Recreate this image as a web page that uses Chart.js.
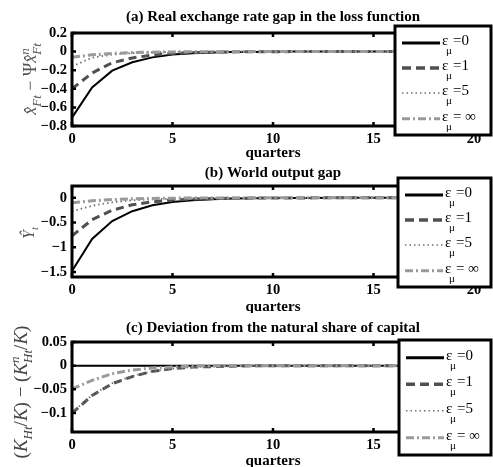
<!DOCTYPE html>
<html>
<head>
<meta charset="utf-8">
<script src="https://cdn.jsdelivr.net/npm/chart.js@4/dist/chart.umd.min.js"></script>
<style>
  html, body { margin: 0; padding: 0; background: #fff; }
  body { width: 493px; height: 467px; position: relative; overflow: hidden; }
  .pane { position: absolute; left: 0; width: 493px; }
</style>
</head>
<body>
<div class="pane" style="top:0px;height:160px"><canvas id="ca"></canvas></div>
<div class="pane" style="top:160px;height:153px"><canvas id="cb"></canvas></div>
<div class="pane" style="top:313px;height:154px"><canvas id="cc"></canvas></div>
<script>
// ---------------- data ----------------
const quarters = [0,1,2,3,4,5,6,7,8,9,10,11,12,13,14,15,16,17,18,19,20];
const seriesNames = ['=0', '=1', '=5', '= ∞'];
const xTickValues = [0, 5, 10, 15, 20];

// (a) Real exchange rate gap in the loss function
const gapA0   = [-0.71,-0.385,-0.205,-0.115,-0.062,-0.032,-0.017,-0.009,-0.005,-0.003,-0.001,0,0,0,0,0,0,0,0,0,0];
const gapA1   = [-0.40,-0.23,-0.12,-0.068,-0.037,-0.02,-0.011,-0.006,-0.003,-0.002,-0.001,0,0,0,0,0,0,0,0,0,0];
const gapA5   = [-0.16,-0.065,-0.032,-0.016,-0.008,-0.004,-0.002,-0.001,0,0,0,0,0,0,0,0,0,0,0,0,0];
const gapAInf = [-0.06,-0.035,-0.02,-0.011,-0.006,-0.003,-0.002,-0.001,0,0,0,0,0,0,0,0,0,0,0,0,0];
const yTicksA = [0.2, 0, -0.2, -0.4, -0.6, -0.8];

// (b) World output gap
const gapB0   = [-1.48,-0.83,-0.47,-0.27,-0.15,-0.085,-0.048,-0.027,-0.015,-0.008,-0.004,-0.002,-0.001,0,0,0,0,0,0,0,0];
const gapB1   = [-0.77,-0.44,-0.25,-0.14,-0.08,-0.045,-0.025,-0.014,-0.008,-0.004,-0.002,-0.001,0,0,0,0,0,0,0,0,0];
const gapB5   = [-0.27,-0.16,-0.09,-0.05,-0.028,-0.016,-0.009,-0.005,-0.003,-0.001,0,0,0,0,0,0,0,0,0,0,0];
const gapBInf = [-0.10,-0.06,-0.035,-0.02,-0.011,-0.006,-0.003,-0.002,-0.001,0,0,0,0,0,0,0,0,0,0,0,0];
const yTicksB = [0, -0.5, -1, -1.5];

// (c) Deviation from the natural share of capital
const gapC0   = [0,0,0,0,0,0,0,0,0,0,0,0,0,0,0,0,0,0,0,0,0];
const gapC1   = [-0.10,-0.063,-0.038,-0.023,-0.012,-0.006,-0.003,-0.002,-0.001,0,0,0,0,0,0,0,0,0,0,0,0];
const gapC5   = [-0.099,-0.062,-0.037,-0.022,-0.012,-0.006,-0.003,-0.002,-0.001,0,0,0,0,0,0,0,0,0,0,0,0];
const gapCInf = [-0.049,-0.031,-0.017,-0.009,-0.005,-0.003,-0.001,0,0,0,0,0,0,0,0,0,0,0,0,0,0];
const yTicksC = [0.05, 0, -0.05, -0.1];

// ---------------- styles ----------------
const lineStyles = [
  { color: '#000000', width: 2,   dash: [],            lgWidth: 3,   lgDash: [] },
  { color: '#505050', width: 3,   dash: [8, 5],        lgWidth: 3.5, lgDash: [9, 5] },
  { color: '#707070', width: 1.8, dash: [1.5, 3],      lgWidth: 1.5, lgDash: [1.5, 3] },
  { color: '#9a9a9a', width: 3,   dash: [8, 3, 2, 3],  lgWidth: 3,   lgDash: [8, 3, 2, 3] }
];
const SERIF = '"Liberation Serif", "Times New Roman", serif';

function fmt(v) {
  if (v === 0) return '0';
  return (v < 0 ? '\u2212' : '') + String(Math.abs(v));
}

function mathWidth(ctx, parts, size) {
  let w = 0;
  for (const p of parts) {
    if (p.sub || p.sup) {
      ctx.font = (p.italic ? 'italic ' : '') + Math.round(size * 0.7) + 'px ' + SERIF;
      const a = p.sub ? ctx.measureText(p.sub).width : 0;
      const b = p.sup ? ctx.measureText(p.sup).width : 0;
      w += Math.max(a, b);
    } else {
      ctx.font = (p.italic ? 'italic ' : '') + size + 'px ' + SERIF;
      w += ctx.measureText(p.t).width;
    }
  }
  return w;
}
function drawMath(ctx, cx, cy, parts, size, color) {
  ctx.save();
  ctx.translate(cx, cy);
  ctx.rotate(-Math.PI / 2);
  ctx.fillStyle = color;
  ctx.textBaseline = 'alphabetic';
  ctx.textAlign = 'left';
  const total = mathWidth(ctx, parts, size);
  let x = -total / 2;
  const base = size * 0.35;
  for (const p of parts) {
    if (p.sub || p.sup) {
      const s = Math.round(size * 0.7);
      ctx.font = (p.italic ? 'italic ' : '') + s + 'px ' + SERIF;
      let w = 0;
      if (p.sub) { ctx.fillText(p.sub, x, base + size * 0.28); w = Math.max(w, ctx.measureText(p.sub).width); }
      if (p.sup) { ctx.fillText(p.sup, x, base - size * 0.42); w = Math.max(w, ctx.measureText(p.sup).width); }
      x += w;
    } else {
      ctx.font = (p.italic ? 'italic ' : '') + size + 'px ' + SERIF;
      ctx.fillText(p.t, x, base);
      x += ctx.measureText(p.t).width;
    }
  }
  ctx.restore();
}

const panelPlugin = {
  id: 'panelDecor',
  afterDraw(chart, args, opts) {
    const ctx = chart.ctx;
    const ca = chart.chartArea;
    const xs = chart.scales.x, ys = chart.scales.y;
    ctx.save();
    ctx.strokeStyle = '#000';
    ctx.lineWidth = 2.5;
    ctx.setLineDash([]);
    for (const v of xTickValues) {
      const px = xs.getPixelForValue(quarters.indexOf(v));
      ctx.beginPath();
      ctx.moveTo(px, ca.top); ctx.lineTo(px, ca.top + 4);
      ctx.moveTo(px, ca.bottom); ctx.lineTo(px, ca.bottom - 4);
      ctx.stroke();
    }
    for (const t of ys.ticks) {
      const py = ys.getPixelForValue(t.value);
      ctx.beginPath();
      ctx.moveTo(ca.left, py); ctx.lineTo(ca.left + 4, py);
      ctx.moveTo(ca.right, py); ctx.lineTo(ca.right - 4, py);
      ctx.stroke();
    }
    ctx.lineWidth = 3;
    ctx.strokeRect(ca.left, ca.top, ca.right - ca.left, ca.bottom - ca.top);

    ctx.fillStyle = '#000';
    ctx.font = 'bold 15px ' + SERIF;
    ctx.textAlign = 'center';
    ctx.textBaseline = 'middle';
    const cxm = (ca.left + ca.right) / 2;
    ctx.fillText(opts.title, cxm, opts.titleY);
    ctx.font = 'bold 15px ' + SERIF;
    ctx.fillText('quarters', cxm, opts.xTitleY);
    drawMath(ctx, opts.yTitleX, opts.yTitleY, opts.yTitle, opts.yTitleSize, opts.yTitleColor);

    const L = opts.legend.left, T = opts.legend.top, R = opts.legend.right, B = opts.legend.bottom;
    ctx.fillStyle = '#fff';
    ctx.fillRect(L, T, R - L, B - T);
    ctx.lineWidth = 3;
    ctx.strokeStyle = '#000';
    ctx.strokeRect(L, T, R - L, B - T);
    const fr = [0.155, 0.385, 0.615, 0.85];
    chart.data.datasets.forEach((ds, i) => {
      const st = lineStyles[i];
      const y = T + (B - T) * fr[i];
      ctx.strokeStyle = st.color;
      ctx.lineWidth = st.lgWidth;
      ctx.setLineDash(st.lgDash);
      ctx.beginPath();
      ctx.moveTo(L + 7, y); ctx.lineTo(L + 45, y);
      ctx.stroke();
      ctx.setLineDash([]);
      ctx.fillStyle = '#000';
      ctx.textAlign = 'left';
      ctx.textBaseline = 'middle';
      ctx.font = '15px ' + SERIF;
      ctx.fillText('\u03b5', L + 47, y - 2);
      ctx.font = '11px ' + SERIF;
      ctx.fillText('\u03bc', L + 51, y + 8);
      ctx.font = '15px ' + SERIF;
      ctx.fillText(ds.label, L + 58, y - 2);
    });
    ctx.restore();
  }
};

function makePanel(id, h, top, bottom, vals, yTicks, yMin, yMax, decor) {
  const datasets = vals.map((arr, i) => ({
    label: seriesNames[i],
    data: arr,
    borderColor: lineStyles[i].color,
    borderWidth: lineStyles[i].width,
    borderDash: lineStyles[i].dash,
    pointRadius: 0,
    tension: 0,
    fill: false,
    order: i === 3 ? 0 : (4 - i)
  }));
  const canvas = document.getElementById(id);
  canvas.width = 493; canvas.height = h;
  return new Chart(canvas, {
    type: 'line',
    data: { labels: quarters, datasets },
    plugins: [panelPlugin],
    options: {
      responsive: false,
      animation: false,
      events: [],
      layout: { padding: { top: top, left: 0, right: 19, bottom: 0 } },
      plugins: {
        legend: { display: false },
        title: { display: false },
        tooltip: { enabled: false },
        panelDecor: decor
      },
      scales: {
        x: {
          type: 'category',
          offset: false,
          grid: { display: false, drawTicks: false },
          border: { display: false },
          afterFit: (s) => { s.height = h - bottom; },
          ticks: {
            autoSkip: false, maxRotation: 0, minRotation: 0, padding: 5,
            color: '#000',
            font: { family: SERIF, weight: 'bold', size: 14.5 },
            callback: (v, i) => (xTickValues.includes(quarters[i]) ? String(quarters[i]) : '')
          }
        },
        y: {
          type: 'linear',
          min: yMin, max: yMax,
          grid: { display: false, drawTicks: false },
          border: { display: false },
          afterFit: (s) => { s.width = 72; },
          afterBuildTicks: (s) => { s.ticks = yTicks.map(v => ({ value: v })); },
          ticks: {
            autoSkip: false,
            padding: 5,
            color: '#000',
            font: { family: SERIF, weight: 'bold', size: 14.5 },
            callback: (v) => fmt(v)
          }
        }
      }
    }
  });
}

makePanel('ca', 160, 33, 126, [gapA0, gapA1, gapA5, gapAInf], yTicksA, -0.8, 0.2, {
  title: '(a) Real exchange rate gap in the loss function',
  titleY: 17, xTitleY: 153,
  yTitleX: 30, yTitleY: 79, yTitleSize: 18, yTitleColor: '#555',
  yTitle: [
    { t: 'x\u0302', italic: true }, { sub: 'Ft', italic: true },
    { t: ' \u2212 ' }, { t: '\u03a8' },
    { t: 'x\u0302', italic: true }, { sub: 'Ft', sup: 'n', italic: true }
  ],
  legend: { left: 395, top: 26, right: 491, bottom: 135 }
});

makePanel('cb', 153, 26, 117, [gapB0, gapB1, gapB5, gapBInf], yTicksB, -1.6, 0.24, {
  title: '(b) World output gap',
  titleY: 13, xTitleY: 147,
  yTitleX: 28, yTitleY: 73, yTitleSize: 16, yTitleColor: '#555',
  yTitle: [ { t: 'Y\u0302', italic: true }, { sub: 't', italic: true } ],
  legend: { left: 398, top: 18, right: 491, bottom: 127 }
});

makePanel('cc', 154, 29, 119, [gapC0, gapC1, gapC5, gapCInf], yTicksC, -0.14, 0.05, {
  title: '(c) Deviation from the natural share of capital',
  titleY: 15, xTitleY: 148,
  yTitleX: 20, yTitleY: 79, yTitleSize: 19, yTitleColor: '#444',
  yTitle: [
    { t: '(' }, { t: 'K', italic: true }, { sub: 'Ht', italic: true }, { t: '/' }, { t: 'K', italic: true }, { t: ') \u2212 (' },
    { t: 'K', italic: true }, { sub: 'Ht', sup: 'n', italic: true }, { t: '/' }, { t: 'K', italic: true }, { t: ')' }
  ],
  legend: { left: 399, top: 27, right: 491, bottom: 142 }
});
</script>
</body>
</html>
